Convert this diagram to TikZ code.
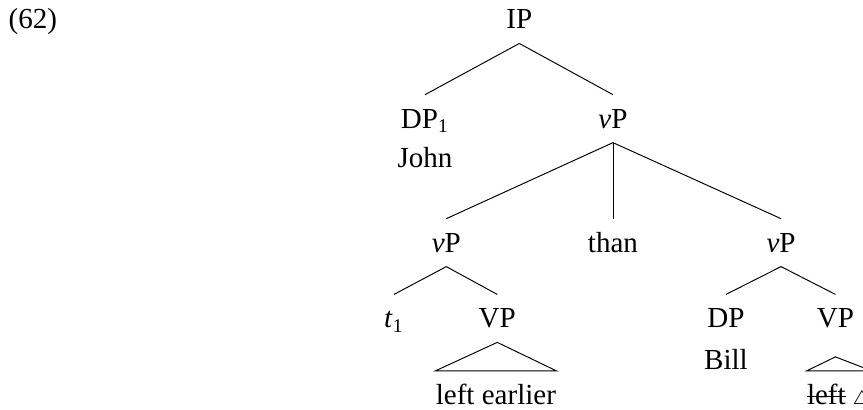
\documentclass[tikz,border=0pt]{standalone}
\usepackage{fontspec}
\setmainfont{Liberation Serif}

% struck-through text
\newlength{\strikelen}
\newcommand{\strikeout}[1]{\settowidth{\strikelen}{#1}\rlap{\rule[0.24em]{\strikelen}{0.5pt}}#1}

\begin{document}
\begin{tikzpicture}[line width=0.4pt, font=\fontsize{12}{14}\selectfont,
    every node/.style={anchor=base, inner xsep=0pt, inner ysep=4pt, text height=9.6pt, text depth=1.8pt}]
    \useasboundingbox (0,0) rectangle (12.53,-5.95);

    % Nodes
    \node [anchor=base west] (exno) at (0.12,-0.42) {(62)};
    \node (ip) at (7.54,-0.42) {IP};
    \node (dpone) at (6.17,-1.86) {DP\textsubscript{1}};
    \node (vp) at (8.90,-1.86) {\textit{v}P};
    \node (john) at (6.17,-2.43) {John};
    \node (vpleft) at (6.48,-3.66) {\textit{v}P};
    \node (than) at (8.90,-3.66) {than};
    \node (vpright) at (11.34,-3.66) {\textit{v}P};
    \node (tone) at (5.72,-4.76) {\textit{t}\textsubscript{1}};
    \node (vpa) at (7.22,-4.76) {VP};
    \node (dpb) at (10.54,-4.76) {DP};
    \node (vpb) at (12.13,-4.76) {VP};
    \node (bill) at (10.54,-5.37) {Bill};
    \node (leftearlier) at (7.20,-5.87) {left earlier};
    \node [anchor=base west] (leftdel) at (11.71,-5.87) {\strikeout{left} $\scriptstyle\triangle$};

    % Lines
    \draw (ip.south) -- (dpone.north);
    \draw (ip.south) -- (vp.north);
    \draw (vp.south) -- (vpleft.north);
    \draw (vp.south) -- (than.north);
    \draw (vp.south) -- (vpright.north);
    \draw (vpleft.south) -- (tone.north);
    \draw (vpleft.south) -- (vpa.north);
    \draw (vpright.south) -- (dpb.north);
    \draw (vpright.south) -- (vpb.north);

    % Roofs
    \draw (vpa.south) -- (leftearlier.north west) -- (leftearlier.north east) -- cycle;
    \draw ([yshift=-6pt]vpb.south) -- (leftdel.north west) -- (leftdel.north east) -- cycle;
\end{tikzpicture}
\end{document}
